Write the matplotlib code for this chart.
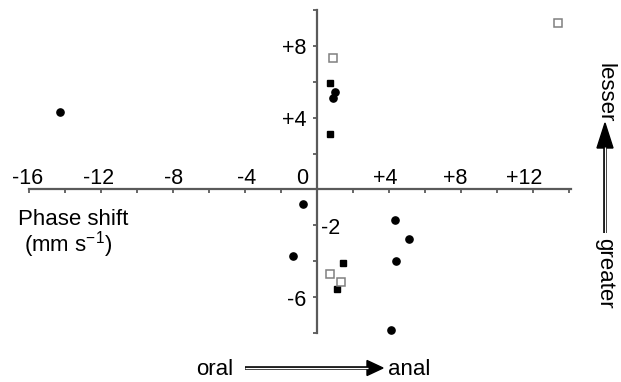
import numpy as np
import matplotlib
matplotlib.use("Agg")
import matplotlib.pyplot as plt
from matplotlib.patches import Polygon

plt.rcParams['font.family'] = ['Liberation Sans', 'DejaVu Sans']
plt.rcParams['mathtext.fontset'] = 'custom'
plt.rcParams['mathtext.rm'] = 'Liberation Sans'
plt.rcParams['mathtext.it'] = 'Liberation Sans'

# data
circ_x = [-14.3, -0.8, 4.35, 5.1, -1.35, 4.4, 4.1, 1.0, 0.9]
circ_y = [4.3, -0.8, -1.7, -2.75, -3.7, -4.0, -7.85, 5.45, 5.1]
fsq_x = [0.7, 0.7, 1.45, 1.1]
fsq_y = [5.95, 3.1, -4.1, -5.55]
osq_x = [13.4, 0.9, 0.7, 1.3]
osq_y = [9.3, 7.35, -4.7, -5.15]

xtick_vals = [-16, -12, -8, -4, 0, 4, 8, 12]
xtick_labels = ['-16', '-12', '-8', '-4', '0', '+4', '+8', '+12']
ytick_vals = [8, 4, -2, -6]
ytick_labels = ['+8', '+4', '-2', '-6']

W, H = 621, 382
PT = 0.72  # points per pixel at dpi 100
fig = plt.figure(figsize=(W / 100, H / 100), dpi=100)

def fx(px):
    return px / W

def fy(py):
    return 1 - py / H

ax = fig.add_axes([fx(29), fy(333), fx(571) - fx(29), fy(10) - fy(333)])
ax.set_xlim(-16, 14.1)
ax.set_ylim(-8, 10)

axcol = '#5a5a5a'
for s in ['top', 'right']:
    ax.spines[s].set_visible(False)
ax.spines['left'].set_position(('data', 0))
ax.spines['bottom'].set_position(('data', 0))
for s in ['left', 'bottom']:
    ax.spines[s].set_color(axcol)
    ax.spines[s].set_linewidth(1.6)

ax.set_xticks(np.arange(-16, 15, 2))
ax.set_yticks(np.arange(-8, 11, 2))
ax.tick_params(direction='out', length=3, width=1.3, color=axcol,
               labelbottom=False, labelleft=False)

fs_tick = 15.5
fs_text = 16
# small horizontal nudges (px) of the x labels as in the original
xlab_dx = [-1, -2, 1, 2, -15, -4, -6, -9]
for v, lab, dx in zip(xtick_vals, xtick_labels, xlab_dx):
    ax.annotate(lab, xy=(v, 0), xytext=(dx * PT, 5 * PT), textcoords='offset points',
                ha='center', va='baseline', fontsize=fs_tick)
for v, lab in zip(ytick_vals, ytick_labels):
    if v == -2:
        ax.annotate(lab, xy=(0, v), xytext=(4 * PT, -3 * PT), textcoords='offset points',
                    ha='left', va='center', fontsize=fs_tick)
    else:
        ax.annotate(lab, xy=(0, v), xytext=(-11 * PT, -3 * PT), textcoords='offset points',
                    ha='right', va='center', fontsize=fs_tick)

ax.plot(circ_x, circ_y, 'o', ms=5.2, color='black', mec='black', zorder=3, clip_on=False)
ax.plot(fsq_x, fsq_y, 's', ms=5, color='black', mec='black', zorder=3, clip_on=False)
ax.plot(osq_x, osq_y, 's', ms=5.5, mfc='white', mec='#808080', mew=1.1, zorder=3, clip_on=False)

# axis caption
fig.text(fx(18), fy(225), 'Phase shift', fontsize=fs_text, ha='left', va='baseline')
fig.text(fx(24), fy(251), '(mm s$^{\\mathregular{-1}}$)', fontsize=fs_text, ha='left', va='baseline')

# double-line arrows
def double_arrow(x0, y0, x1, y1, head_len, head_w):
    # shaft from (x0,y0) to arrow base, head tip at (x1,y1), pixel coords
    d = np.array([x1 - x0, y1 - y0], float)
    L = np.hypot(*d)
    u = d / L
    n = np.array([-u[1], u[0]])
    base = np.array([x1, y1]) - u * head_len
    fig.add_artist(plt.Line2D([fx(x0), fx(base[0])], [fy(y0), fy(base[1])],
                              color='black', lw=2.6, solid_capstyle='butt'))
    fig.add_artist(plt.Line2D([fx(x0), fx(base[0] + u[0])], [fy(y0), fy(base[1] + u[1])],
                              color='white', lw=0.9, solid_capstyle='butt'))
    p1 = base + n * head_w / 2
    p2 = base - n * head_w / 2
    pts = [(fx(x1), fy(y1)), (fx(p1[0]), fy(p1[1])), (fx(p2[0]), fy(p2[1]))]
    fig.add_artist(Polygon(pts, closed=True, color='black', transform=fig.transFigure))

double_arrow(245, 368, 383, 368, 16, 15)
fig.text(fx(233), fy(375), 'oral', fontsize=fs_text, ha='right', va='baseline')
fig.text(fx(388), fy(375), 'anal', fontsize=fs_text, ha='left', va='baseline')

double_arrow(605, 233, 605, 123, 25, 16)
fig.text(fx(605), fy(93), 'lesser', fontsize=fs_text, ha='center', va='center', rotation=-90)
fig.text(fx(605), fy(273), 'greater', fontsize=fs_text, ha='center', va='center', rotation=-90)

fig.savefig('out.png', dpi=100)
